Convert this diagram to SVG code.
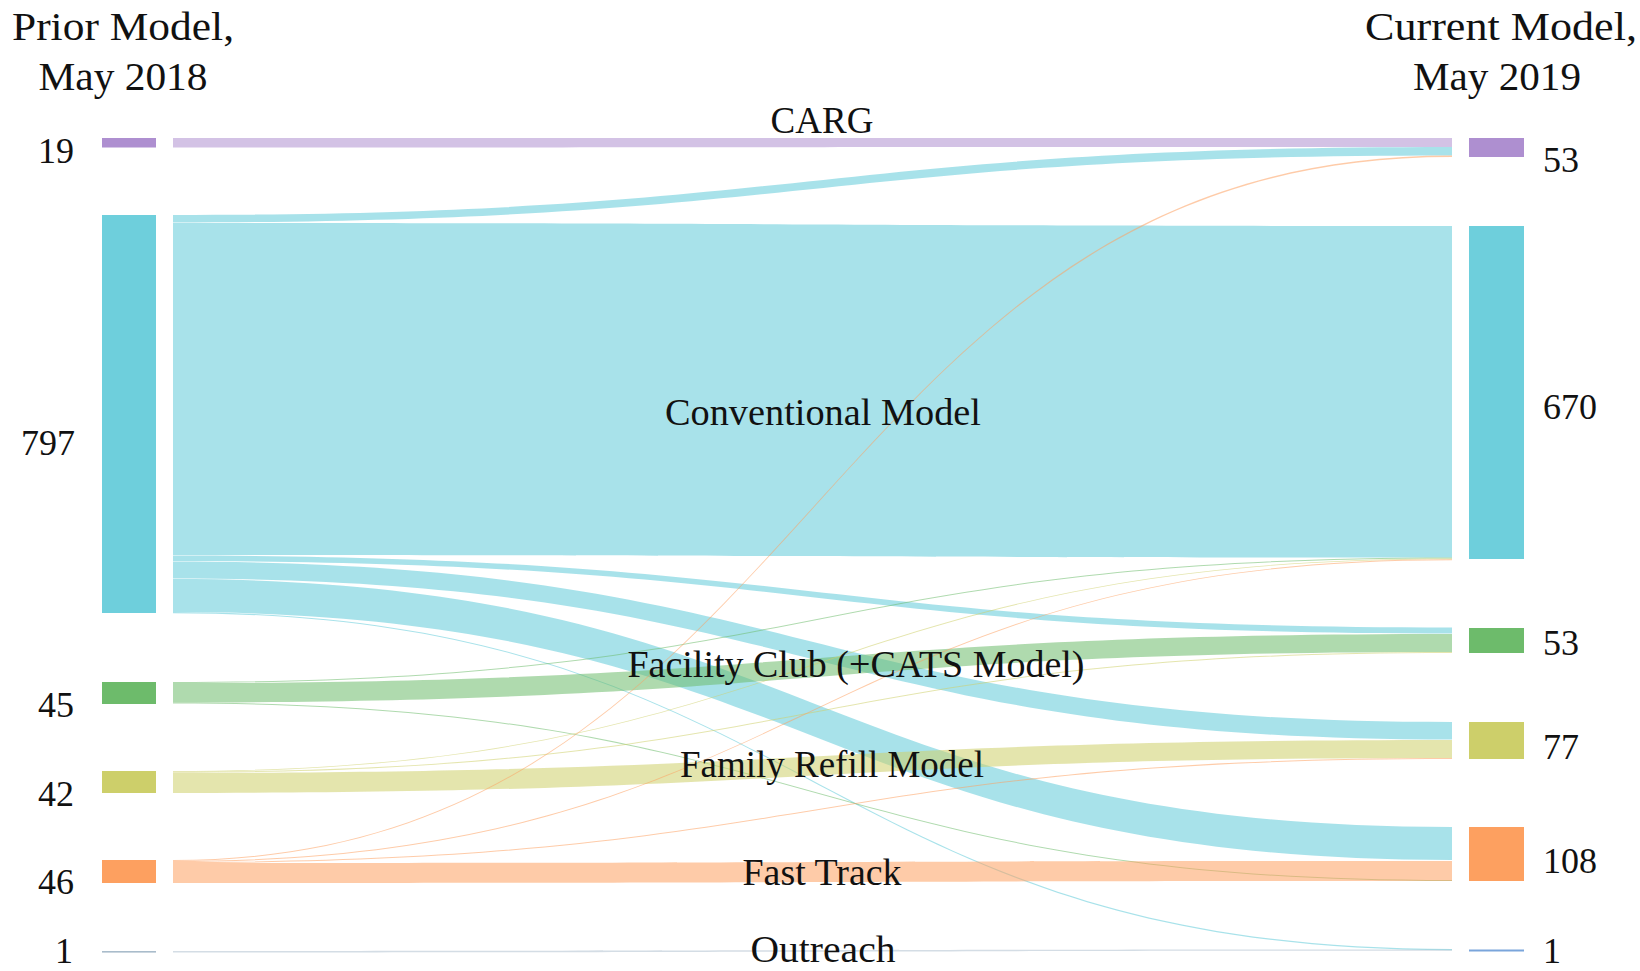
<svg xmlns="http://www.w3.org/2000/svg" width="1640" height="971" viewBox="0 0 1640 971">
<style>
text{font-family:"Liberation Serif","DejaVu Serif",serif;fill:#111;}
.t{font-size:39px;}
.n{font-size:36px;}
.l{font-size:37px;text-anchor:middle;}
.p{fill:#ae8fd0;} .c{fill:#6ecfdc;} .g{fill:#6dbb6b;} .y{fill:#cdcf6a;} .o{fill:#fda060;}
.fp{fill:#ae8fd0;fill-opacity:.55;} .fc{fill:#6ecfdc;fill-opacity:.6;} .fg{fill:#6dbb6b;fill-opacity:.55;}
.fy{fill:#cdcf6a;fill-opacity:.55;} .fo{fill:#fda060;fill-opacity:.55;} .fr{fill:#a9bccb;fill-opacity:.5;}
</style>
<rect width="1640" height="971" fill="#fff"/>
<g id="titles">
<text class="t" x="123" y="40" text-anchor="middle" textLength="222" lengthAdjust="spacingAndGlyphs">Prior Model,</text>
<text class="t" x="123" y="90" text-anchor="middle" textLength="169" lengthAdjust="spacingAndGlyphs">May 2018</text>
<text class="t" x="1501" y="40" text-anchor="middle" textLength="272" lengthAdjust="spacingAndGlyphs">Current Model,</text>
<text class="t" x="1497" y="90" text-anchor="middle" textLength="168" lengthAdjust="spacingAndGlyphs">May 2019</text>
</g>
<g id="connectors">
<path class="fp" d="M173,138 C812.5,138 812.5,138 1452,138 L1452,147 C812.5,147 812.5,147.5 173,147.5 Z"/>
<path class="fc" d="M173,215 C812.5,215 812.5,147 1452,147 L1452,155.5 C812.5,155.5 812.5,222.5 173,222.5 Z"/>
<path class="fc" d="M173,223 C812.5,223 812.5,226 1452,226 L1452,557.5 C812.5,557.5 812.5,555 173,555 Z"/>
<path class="fc" d="M173,555.5 C812.5,555.5 812.5,627.5 1452,627.5 L1452,633.5 C812.5,633.5 812.5,561 173,561 Z"/>
<path class="fc" d="M173,561.5 C812.5,561.5 812.5,722 1452,722 L1452,739.5 C812.5,739.5 812.5,578.5 173,578.5 Z"/>
<path class="fc" d="M173,579 C812.5,579 812.5,827 1452,827 L1452,860 C812.5,860 812.5,612 173,612 Z"/>
<path class="fc" d="M173,612 C812.5,612 812.5,949 1452,949 L1452,950.2 C812.5,950.2 812.5,613.2 173,613.2 Z"/>
<path class="fg" d="M173,682 C812.5,682 812.5,557.5 1452,557.5 L1452,558.5 C812.5,558.5 812.5,683 173,683 Z"/>
<path class="fg" d="M173,683 C812.5,683 812.5,634 1452,634 L1452,652 C812.5,652 812.5,702.5 173,702.5 Z"/>
<path class="fg" d="M173,702.5 C812.5,702.5 812.5,880 1452,880 L1452,881 C812.5,881 812.5,703.5 173,703.5 Z"/>
<path class="fy" d="M173,771 C812.5,771 812.5,558.5 1452,558.5 L1452,559.3 C812.5,559.3 812.5,771.8 173,771.8 Z"/>
<path class="fy" d="M173,771.8 C812.5,771.8 812.5,652 1452,652 L1452,653 C812.5,653 812.5,772.8 173,772.8 Z"/>
<path class="fy" d="M173,773 C812.5,773 812.5,740 1452,740 L1452,758 C812.5,758 812.5,793 173,793 Z"/>
<path class="fo" d="M173,860 C812.5,860 812.5,155.5 1452,155.5 L1452,157 C812.5,157 812.5,861 173,861 Z"/>
<path class="fo" d="M173,861 C812.5,861 812.5,559.3 1452,559.3 L1452,560.2 C812.5,560.2 812.5,862 173,862 Z"/>
<path class="fo" d="M173,862 C812.5,862 812.5,758 1452,758 L1452,759 C812.5,759 812.5,863 173,863 Z"/>
<path class="fo" d="M173,863 C812.5,863 812.5,861 1452,861 L1452,881 C812.5,881 812.5,883 173,883 Z"/>
<path class="fr" d="M173,951 C812.5,951 812.5,949.5 1452,949.5 L1452,950.8 C812.5,950.8 812.5,952.5 173,952.5 Z"/>
</g>
<g id="node-carg-2018"><rect class="p" x="102" y="138" width="54" height="9.5"/><text class="n" x="74" y="163" text-anchor="end">19</text></g>
<g id="node-conv-2018"><rect class="c" x="102" y="215" width="54" height="398"/><text class="n" x="75" y="455" text-anchor="end">797</text></g>
<g id="node-fac-2018"><rect class="g" x="102" y="682" width="54" height="22"/><text class="n" x="74" y="717" text-anchor="end">45</text></g>
<g id="node-fam-2018"><rect class="y" x="102" y="771" width="54" height="22"/><text class="n" x="74" y="806" text-anchor="end">42</text></g>
<g id="node-fast-2018"><rect class="o" x="102" y="860" width="54" height="23"/><text class="n" x="74" y="894" text-anchor="end">46</text></g>
<g id="node-out-2018"><rect fill="#a9bccb" x="102" y="951" width="54" height="1.6"/><text class="n" x="73" y="963" text-anchor="end">1</text></g>
<g id="node-carg-2019"><rect class="p" x="1469" y="138" width="55" height="19"/><text class="n" x="1543" y="172">53</text></g>
<g id="node-conv-2019"><rect class="c" x="1469" y="226" width="55" height="333"/><text class="n" x="1543" y="419">670</text></g>
<g id="node-fac-2019"><rect class="g" x="1469" y="628" width="55" height="25"/><text class="n" x="1543" y="655">53</text></g>
<g id="node-fam-2019"><rect class="y" x="1469" y="722" width="55" height="37"/><text class="n" x="1543" y="759">77</text></g>
<g id="node-fast-2019"><rect class="o" x="1469" y="827" width="55" height="54"/><text class="n" x="1543" y="873">108</text></g>
<g id="node-out-2019"><rect fill="#7aa5db" x="1469" y="949.5" width="55" height="2"/><text class="n" x="1543" y="963">1</text></g>
<g id="labels">
<text class="l" x="822" y="133">CARG</text>
<text class="l" x="823" y="425" textLength="316" lengthAdjust="spacingAndGlyphs">Conventional Model</text>
<text class="l" x="856" y="677" textLength="457" lengthAdjust="spacingAndGlyphs">Facility Club (+CATS Model)</text>
<text class="l" x="832" y="777" textLength="304" lengthAdjust="spacingAndGlyphs">Family Refill Model</text>
<text class="l" x="822" y="885" textLength="159" lengthAdjust="spacingAndGlyphs">Fast Track</text>
<text class="l" x="823" y="962" textLength="145" lengthAdjust="spacingAndGlyphs">Outreach</text>
</g>
</svg>
